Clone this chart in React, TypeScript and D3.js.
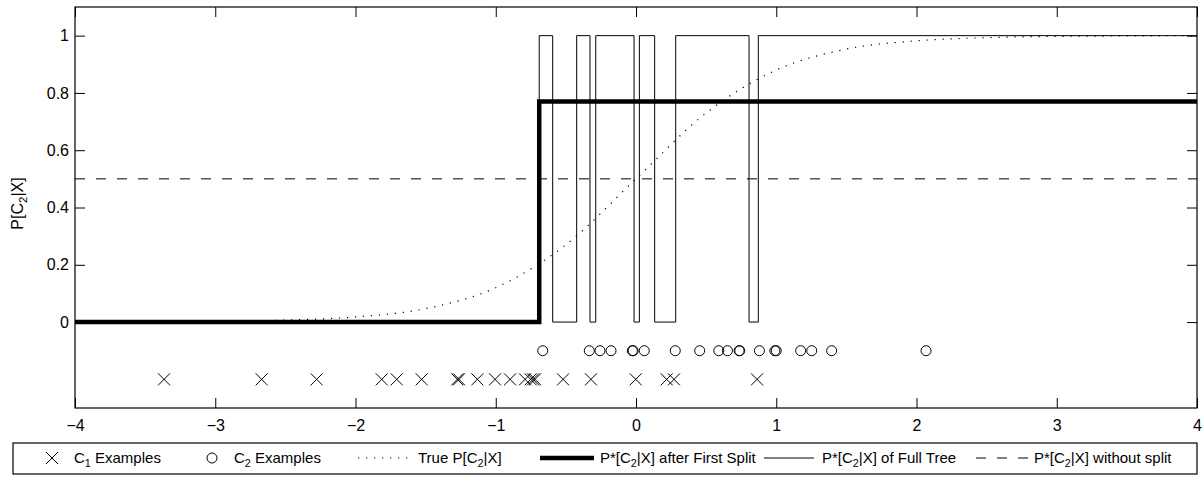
import React, { useRef, useEffect } from "react";
import * as d3 from "d3";

// sample locations of the two classes (x), shown on rows below zero
const c1Examples = [
  -3.365, -2.669, -2.277, -1.813, -1.706, -1.528, -1.274, -1.262, -1.131, -1.005,
  -0.898, -0.791, -0.751, -0.734, -0.72, -0.52, -0.321, -0.002, 0.219, 0.271, 0.863,
];
const c1Row = -0.2;
const c2Examples = [
  -0.665, -0.333, -0.257, -0.178, -0.026, -0.02, 0.059, 0.28, 0.454, 0.59, 0.652,
  0.735, 0.74, 0.88, 0.99, 1.0, 1.174, 1.253, 1.395, 2.068,
];
const c2Row = -0.1;

// true posterior
const trueX = [-4, -3.5, -3, -2.5, -2, -1.5, -1, -0.5, 0, 0.5, 1, 1.5, 2, 2.5, 3, 3.5, 4];
const trueP = [0, 0.001, 0.0025, 0.007, 0.018, 0.047, 0.12, 0.27, 0.5, 0.73, 0.88, 0.953, 0.982, 0.993, 0.9975, 0.999, 1];

// estimate after the first split
const splitX = [-4, -0.69, 4];
const splitP = [0, 0.77, 0.77];

// estimate of the full tree (step edges)
const treeX = [-4, -0.69, -0.594, -0.423, -0.328, -0.287, -0.014, 0.024, 0.133, 0.283, 0.806, 0.872, 4];
const treeP = [0, 1, 0, 1, 0, 1, 0, 1, 0, 1, 0, 1, 1];

// estimate without any split
const noSplitP = 0.5;

const xTicks = [-4, -3, -2, -1, 0, 1, 2, 3, 4];
const yTicks = [0, 0.2, 0.4, 0.6, 0.8, 1];

const FONT = "'Liberation Sans', Arial, Helvetica, sans-serif";

// text with a subscript piece: parts = [text, isSub]
const richText = (g, x, y, parts, size) => {
  const t = g
    .append("text")
    .attr("x", x)
    .attr("y", y)
    .style("font-family", FONT)
    .style("font-size", size + "px")
    .attr("fill", "black");
  let shifted = false;
  parts.forEach(([s, sub]) => {
    const ts = t.append("tspan").text(s);
    if (sub && !shifted) {
      ts.attr("dy", size * 0.28).style("font-size", size * 0.72 + "px");
      shifted = true;
    } else if (!sub && shifted) {
      ts.attr("dy", -size * 0.28);
      shifted = false;
    }
  });
  return t;
};

const App = () => {
  const chartRef = useRef(null);

  useEffect(() => {
    const width = 1204;
    const height = 480;
    const plot = { left: 75, right: 1197, top: 7, bottom: 408 };

    const svg = d3.select(chartRef.current).attr("width", width).attr("height", height);
    svg.selectAll("*").remove();

    const x = d3.scaleLinear().domain([-4, 4]).range([plot.left, plot.right]);
    const y = d3.scaleLinear().domain([-0.3, 1.1]).range([plot.bottom, plot.top]);
    const fmt = d3.format("~g");

    // axes: ticks pointing inward on all four sides
    const axisStyle = (g) => {
      g.select(".domain").remove();
      g.selectAll("line").attr("stroke", "black");
      g.selectAll("text").style("font-family", FONT).style("font-size", "16px").attr("fill", "black");
    };
    svg
      .append("g")
      .attr("transform", `translate(0,${plot.bottom})`)
      .call(d3.axisBottom(x).tickValues(xTicks).tickFormat(fmt).tickSize(-10).tickSizeOuter(0).tickPadding(12))
      .call(axisStyle);
    svg
      .append("g")
      .attr("transform", `translate(0,${plot.top})`)
      .call(d3.axisTop(x).tickValues(xTicks).tickFormat(() => "").tickSize(-10).tickSizeOuter(0))
      .call(axisStyle);
    svg
      .append("g")
      .attr("transform", `translate(${plot.left},0)`)
      .call(d3.axisLeft(y).tickValues(yTicks).tickFormat(fmt).tickSize(-10).tickSizeOuter(0).tickPadding(6))
      .call(axisStyle);
    svg
      .append("g")
      .attr("transform", `translate(${plot.right},0)`)
      .call(d3.axisRight(y).tickValues(yTicks).tickFormat(() => "").tickSize(-10).tickSizeOuter(0))
      .call(axisStyle);

    svg
      .append("rect")
      .attr("x", plot.left)
      .attr("y", plot.top)
      .attr("width", plot.right - plot.left)
      .attr("height", plot.bottom - plot.top)
      .attr("fill", "none")
      .attr("stroke", "black")
      .attr("stroke-width", 1.2);

    // y label
    const yl = svg.append("g").attr("transform", `translate(23,${(plot.top + plot.bottom) / 2 - 4}) rotate(-90)`);
    richText(yl, 0, 0, [["P[C", 0], ["2", 1], ["|X]", 0]], 16).attr("text-anchor", "middle");

    svg
      .append("clipPath")
      .attr("id", "plotclip")
      .append("rect")
      .attr("x", plot.left)
      .attr("y", plot.top)
      .attr("width", plot.right - plot.left)
      .attr("height", plot.bottom - plot.top);

    const g = svg.append("g").attr("clip-path", "url(#plotclip)");

    // markers
    g.selectAll(".c1")
      .data(c1Examples)
      .join("path")
      .attr("class", "c1")
      .attr("d", "M-6,-6L6,6M-6,6L6,-6")
      .attr("transform", (d) => `translate(${x(d)},${y(c1Row)})`)
      .attr("stroke", "black")
      .attr("fill", "none");
    g.selectAll(".c2")
      .data(c2Examples)
      .join("circle")
      .attr("class", "c2")
      .attr("cx", (d) => x(d))
      .attr("cy", y(c2Row))
      .attr("r", 5)
      .attr("stroke", "black")
      .attr("fill", "none");

    // true posterior (dotted)
    const trueLine = d3
      .line()
      .x((d, i) => x(trueX[i]))
      .y((d) => y(d))
      .curve(d3.curveMonotoneX);
    g.append("path")
      .attr("d", trueLine(trueP))
      .attr("fill", "none")
      .attr("stroke", "black")
      .attr("stroke-width", 1.2)
      .attr("stroke-dasharray", "1.2 6.8");

    // first split (bold)
    const stepLine = (xs) =>
      d3
        .line()
        .x((d, i) => x(xs[i]))
        .y((d) => y(d))
        .curve(d3.curveStepAfter);
    g.append("path")
      .attr("d", stepLine(splitX)(splitP))
      .attr("fill", "none")
      .attr("stroke", "black")
      .attr("stroke-width", 4.5);

    // full tree (thin)
    g.append("path")
      .attr("d", stepLine(treeX)(treeP))
      .attr("fill", "none")
      .attr("stroke", "black")
      .attr("stroke-width", 1);

    // without split (dashed)
    g.append("line")
      .attr("x1", x(-4))
      .attr("x2", x(4))
      .attr("y1", y(noSplitP))
      .attr("y2", y(noSplitP))
      .attr("stroke", "black")
      .attr("stroke-width", 1)
      .attr("stroke-dasharray", "10 11");

    // legend
    const lg = svg.append("g");
    lg.append("rect")
      .attr("x", 13)
      .attr("y", 443)
      .attr("width", plot.right - 13)
      .attr("height", 31)
      .attr("fill", "white")
      .attr("stroke", "black")
      .attr("stroke-width", 1.2);
    const ly = 458;
    const ty = ly + 5;
    lg.append("path").attr("d", "M-6,-6L6,6M-6,6L6,-6").attr("transform", `translate(52,${ly})`).attr("stroke", "black");
    richText(lg, 74, ty, [["C", 0], ["1", 1], [" Examples", 0]], 15);
    lg.append("circle").attr("cx", 212).attr("cy", ly).attr("r", 5).attr("stroke", "black").attr("fill", "none");
    richText(lg, 234, ty, [["C", 0], ["2", 1], [" Examples", 0]], 15);
    lg.append("line").attr("x1", 358).attr("x2", 412).attr("y1", ly).attr("y2", ly)
      .attr("stroke", "black").attr("stroke-width", 1.2).attr("stroke-dasharray", "1.2 6.8");
    richText(lg, 418, ty, [["True P[C", 0], ["2", 1], ["|X]", 0]], 15);
    lg.append("line").attr("x1", 540).attr("x2", 594).attr("y1", ly).attr("y2", ly)
      .attr("stroke", "black").attr("stroke-width", 4.5);
    richText(lg, 600, ty, [["P*[C", 0], ["2", 1], ["|X] after First Split", 0]], 15);
    lg.append("line").attr("x1", 764).attr("x2", 814).attr("y1", ly).attr("y2", ly)
      .attr("stroke", "black").attr("stroke-width", 1);
    richText(lg, 822, ty, [["P*[C", 0], ["2", 1], ["|X] of Full Tree", 0]], 15);
    lg.append("line").attr("x1", 976).attr("x2", 1030).attr("y1", ly).attr("y2", ly)
      .attr("stroke", "black").attr("stroke-width", 1).attr("stroke-dasharray", "10 11");
    richText(lg, 1034, ty, [["P*[C", 0], ["2", 1], ["|X] without split", 0]], 15);
  }, []);

  return (
    <div style={{ position: "absolute", left: 0, top: 0 }}>
      <svg ref={chartRef} style={{ display: "block", background: "white" }}></svg>
    </div>
  );
};

export default App;
